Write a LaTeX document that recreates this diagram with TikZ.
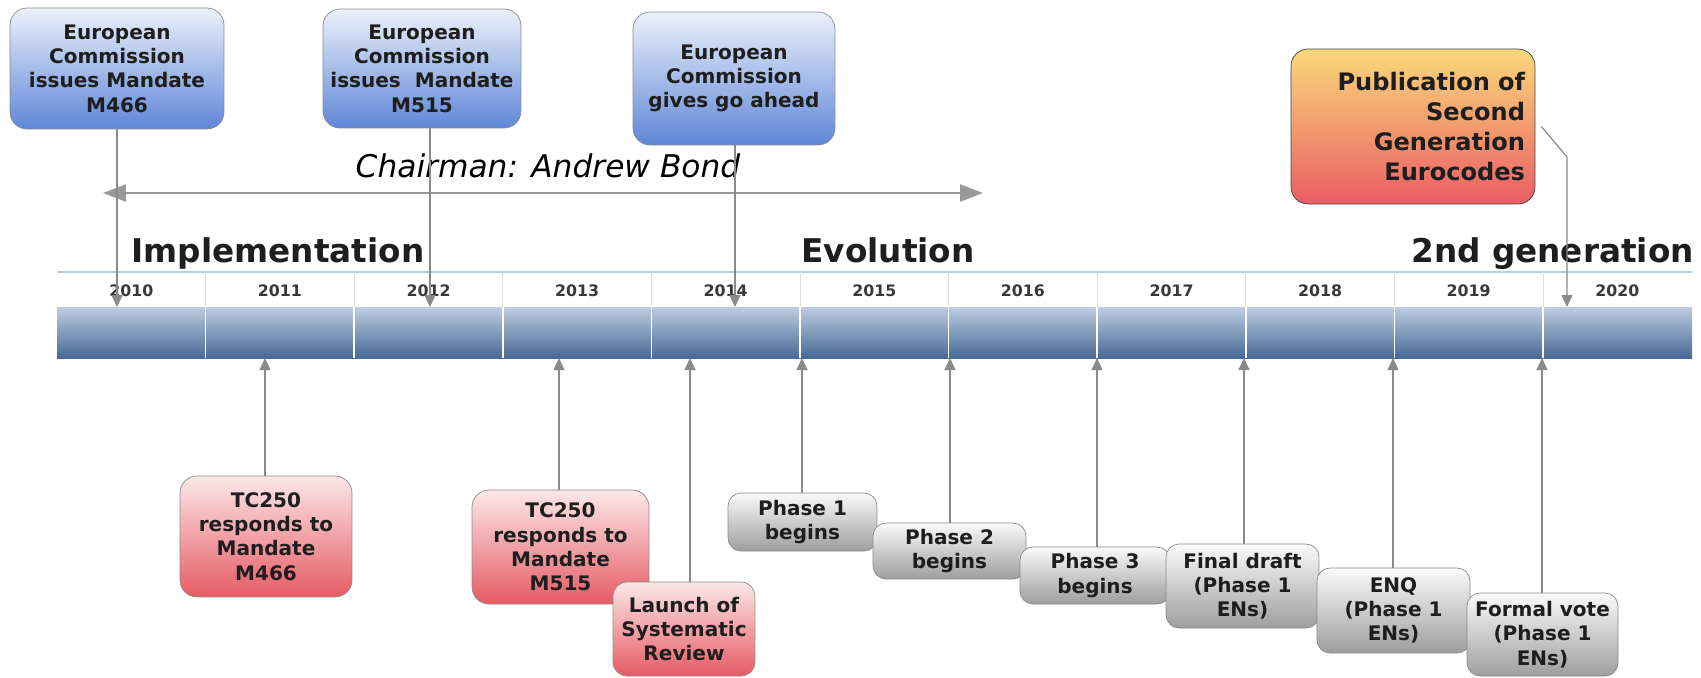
\documentclass[tikz,border=0pt]{standalone}
\usepackage{fontspec}
\setmainfont{DejaVu Sans}
\usetikzlibrary{arrows.meta}
\definecolor{mandTop}{RGB}{236,241,250}
\definecolor{mandBot}{RGB}{94,134,216}
\definecolor{respTop}{RGB}{252,232,232}
\definecolor{respBot}{RGB}{230,90,100}
\definecolor{phaseTop}{RGB}{250,250,250}
\definecolor{phaseBot}{RGB}{158,158,158}
\definecolor{pubTop}{RGB}{250,216,122}
\definecolor{pubBot}{RGB}{234,94,100}
\definecolor{barTop}{RGB}{190,205,224}
\definecolor{barBot}{RGB}{72,104,150}
\definecolor{ruleBlue}{RGB}{184,203,226}
\definecolor{linkGray}{RGB}{138,138,138}
\definecolor{inkDark}{RGB}{30,30,30}
\begin{document}
\begin{tikzpicture}[x=0.02cm, y=-0.02cm]
    \tikzstyle{every node} = [align=center, text=inkDark, font=\fontsize{11.4}{13.8}\selectfont\bfseries]
    \tikzstyle{box} = [draw=linkGray, rounded corners=0.34cm, inner sep=0pt]
    \tikzstyle{mandate} = [box, top color=mandTop, bottom color=mandBot]
    \tikzstyle{response} = [box, top color=respTop, bottom color=respBot]
    \tikzstyle{phase} = [box, top color=phaseTop, bottom color=phaseBot, rounded corners=0.26cm]
    \tikzstyle{release} = [box, top color=pubTop, bottom color=pubBot, draw=black!75, align=right,
        font=\fontsize{13.7}{17}\selectfont\bfseries]
    \tikzstyle{link} = [draw=linkGray, line width=0.7pt, -{Triangle[length=0.24cm,width=0.22cm]}]
    \tikzstyle{period} = [anchor=base, font=\fontsize{18.6}{22}\selectfont\bfseries]
    \tikzstyle{year} = [text=black!78, font=\fontsize{9}{11}\selectfont\bfseries]
    \useasboundingbox (0,0) rectangle (1701,677);
    \shade[top color=barTop, bottom color=barBot] (57,307) rectangle (1692,358);
    \draw[ruleBlue, line width=0.8pt] (57,272) -- (1692,272);
    \foreach \yr [count=\i from 0] in {2010,...,2020} {
        \node[year] (y\yr) at (131.3+148.6*\i, 291) {\yr};
    }
    \foreach \i in {1,...,10} {
        \draw[black!12] (57+148.6*\i, 272) -- (57+148.6*\i, 307);
        \draw[white, line width=1pt] (57+148.6*\i, 307) -- (57+148.6*\i, 358);
    }
    \node[period] (impl) at (278,262) {Implementation};
    \node[period] (evol) at (888,262) {Evolution};
    \node[period, anchor=base east] (gen2) at (1700,262) {2nd generation};
    \coordinate (chairL) at (103,193);
    \coordinate (chairR) at (983,193);
    \draw[draw=black!40, line width=1.4pt, {Triangle[length=0.46cm,width=0.34cm]}-{Triangle[length=0.46cm,width=0.34cm]}] (chairL) -- (chairR);
    \node[anchor=base, text=black, font=\fontsize{17.8}{20}\selectfont\itshape] (chair) at (548,177) {Chairman: Andrew Bond};
    \node[mandate, minimum width=4.28cm, minimum height=2.42cm] (ec1) at (117,68.5) {European\\Commission\\issues Mandate\\M466};
    \node[mandate, minimum width=3.96cm, minimum height=2.38cm] (ec2) at (422,68.5) {European\\Commission\\issues~ Mandate\\M515};
    \node[mandate, minimum width=4.04cm, minimum height=2.66cm] (ec3) at (734,78.5) {European\\Commission\\gives go ahead};
    \node[release, minimum width=4.88cm, minimum height=3.1cm, text width=4.48cm] (pub) at (1413,126.5) {Publication of\\Second\\Generation\\Eurocodes};
    \coordinate (d1) at (117,307);
    \coordinate (d2) at (430,307);
    \coordinate (d3) at (735,307);
    \coordinate (d4) at (1567,307);
    \coordinate (pubBend) at (1567,157);
    \draw[link] (ec1) -- (d1);
    \draw[link] (ec2.south -| d2) -- (d2);
    \draw[link] (ec3.south -| d3) -- (d3);
    \draw[link] ([xshift=0.12cm]pub.east) -- (pubBend) -- (d4);
    \node[response, minimum width=3.44cm, minimum height=2.42cm] (tc1) at (266,536.5) {TC250\\responds to\\Mandate\\M466};
    \node[response, minimum width=3.54cm, minimum height=2.28cm] (tc2) at (560.5,547) {TC250\\responds to\\Mandate\\M515};
    \node[response, minimum width=2.84cm, minimum height=1.88cm, rounded corners=0.28cm] (review) at (684,629) {Launch of\\Systematic\\Review};
    \node[phase, minimum width=2.98cm, minimum height=1.16cm] (ph1) at (802.5,522) {Phase 1\\begins};
    \node[phase, minimum width=3.06cm, minimum height=1.12cm] (ph2) at (949.5,551) {Phase 2\\begins};
    \node[phase, minimum width=3.0cm, minimum height=1.14cm] (ph3) at (1095,575.5) {Phase 3\\begins};
    \node[phase, minimum width=3.06cm, minimum height=1.68cm] (draft) at (1242.5,586) {Final draft\\(Phase 1\\ENs)};
    \node[phase, minimum width=3.06cm, minimum height=1.7cm] (enq) at (1393.5,610.5) {ENQ\\(Phase 1\\ENs)};
    \node[phase, minimum width=3.02cm, minimum height=1.66cm] (vote) at (1542.5,634.5) {Formal vote\\(Phase 1\\ENs)};
    \coordinate (u1) at (265,358);
    \coordinate (u2) at (559,358);
    \coordinate (u3) at (690,358);
    \coordinate (u4) at (802,358);
    \coordinate (u5) at (950,358);
    \coordinate (u6) at (1097,358);
    \coordinate (u7) at (1244,358);
    \coordinate (u8) at (1393,358);
    \coordinate (u9) at (1542,358);
    \draw[link] (tc1.north -| u1) -- (u1);
    \draw[link] (tc2.north -| u2) -- (u2);
    \draw[link] (review.north -| u3) -- (u3);
    \draw[link] (ph1.north -| u4) -- (u4);
    \draw[link] (ph2.north -| u5) -- (u5);
    \draw[link] (ph3.north -| u6) -- (u6);
    \draw[link] (draft.north -| u7) -- (u7);
    \draw[link] (enq.north -| u8) -- (u8);
    \draw[link] (vote.north -| u9) -- (u9);
\end{tikzpicture}
\end{document}
